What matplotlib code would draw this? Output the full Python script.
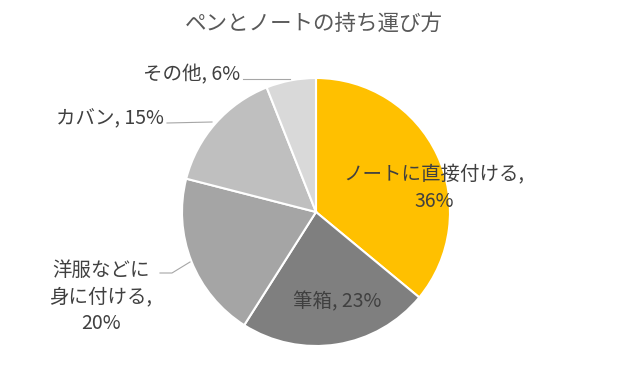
import matplotlib
matplotlib.use("Agg")
import matplotlib.pyplot as plt

plt.rcParams['font.family'] = ['Noto Sans CJK JP', 'DejaVu Sans']

title = "ペンとノートの持ち運び方"
categories = ["ノートに直接付ける", "筆箱", "洋服などに身に付ける", "カバン", "その他"]
values = [36, 23, 20, 15, 6]
colors = ["#FFC000", "#7F7F7F", "#A5A5A5", "#BFBFBF", "#D9D9D9"]
label_texts = ["ノートに直接付ける,\n36%", "筆箱, 23%", "洋服などに\n身に付ける,\n20%", "カバン, 15%", "その他, 6%"]

W, H = 623, 365
fig = plt.figure(figsize=(W / 100, H / 100), dpi=100)
ax = fig.add_axes([0, 0, 1, 1])

cx, cy, r = 316, H - 212, 134
ax.pie(values, colors=colors, startangle=90, counterclock=False,
       center=(cx, cy), radius=r, frame=True,
       wedgeprops=dict(edgecolor='white', linewidth=1.5))
ax.set_xlim(0, W)
ax.set_ylim(0, H)
ax.set_aspect('equal')
ax.axis('off')

tc = "#404040"
fig.text(314 / W, 1 - 24 / H, title, ha='center', va='center', fontsize=15.5, color="#595959")

# label positions (pixel coords, top-left origin)
pos = [(434, 188, 'center'), (337, 302, 'center'), (101, 297, 'center'), (164, 119, 'right'), (240, 75, 'right')]
for (x, y, ha), t in zip(pos, label_texts):
    ax.text(x, H - y, t, ha=ha, va='center', fontsize=14, color=tc, linespacing=1.32,
            multialignment='center')

# leader lines
lc = "#A6A6A6"
ax.plot([243, 290], [H - 79, H - 79], color=lc, lw=0.8)
ax.plot([167, 212], [H - 123, H - 122], color=lc, lw=0.8)
ax.plot([160, 172, 190], [H - 273, H - 273, H - 262], color=lc, lw=0.8)

fig.savefig("out.png", dpi=100, facecolor='white')
